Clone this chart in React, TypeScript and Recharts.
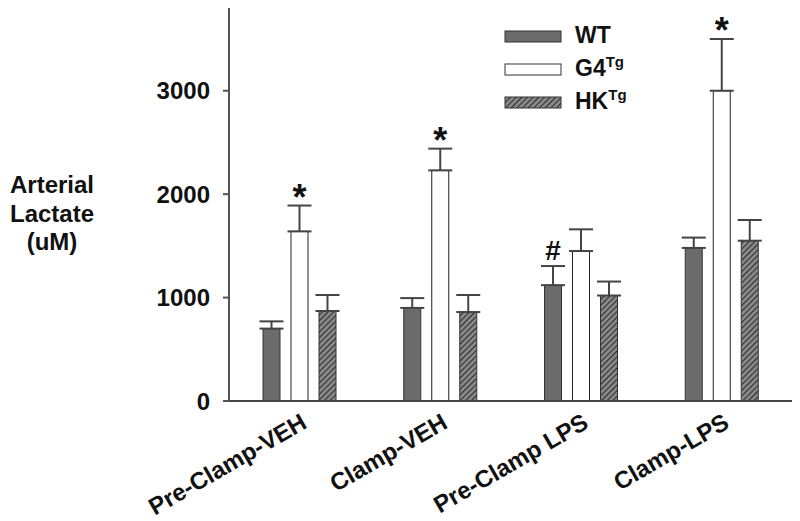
import React from 'react'
import { BarChart, Bar, XAxis, YAxis, ErrorBar, LabelList } from 'recharts'

const categories = ['Pre-Clamp-VEH', 'Clamp-VEH', 'Pre-Clamp LPS', 'Clamp-LPS']
const wt = [700, 900, 1120, 1480]
const wtErr = [70, 95, 185, 100]
const g4 = [1640, 2230, 1450, 3000]
const g4Err = [250, 210, 210, 500]
const hk = [870, 860, 1020, 1550]
const hkErr = [155, 165, 135, 200]
const wtMarks = ['', '', '#', '']
const g4Marks = ['*', '*', '', '*']
const yTicks = [0, 1000, 2000, 3000]

const data = categories.map((c, i) => ({
  name: c,
  wt: wt[i],
  wtErr: [0, wtErr[i]],
  g4: g4[i],
  g4Err: [0, g4Err[i]],
  hk: hk[i],
  hkErr: [0, hkErr[i]],
}))

const FONT = '"Liberation Sans", Arial, sans-serif'
const WT_FILL = '#6b6b6b'

// glyph baseline shift so the mark's centre sits ~16px over the error cap
const markStyle: Record<string, { size: number; shift: number }> = {
  '*': { size: 36, shift: 4 },
  '#': { size: 28, shift: -6 },
}

const makeMark = (vals: number[], errs: number[], marks: string[]) => (props: any) => {
  const i = props.index
  const box = props.viewBox ?? props
  const { x, y, width, height } = box
  if (i == null || !marks[i]) return null
  const perUnit = height / vals[i]
  const top = y - errs[i] * perUnit
  const st = markStyle[marks[i]]
  return (
    <text
      x={x + width / 2}
      y={top + st.shift}
      textAnchor="middle"
      fontFamily={FONT}
      fontWeight="bold"
      fontSize={st.size}
      fill="#111"
    >
      {marks[i]}
    </text>
  )
}

const XTick = (props: any) => {
  const { x, y, payload } = props
  const px = x + 9
  const py = y + 18
  return (
    <text
      x={px}
      y={py}
      textAnchor="end"
      transform={`rotate(-30, ${px}, ${py})`}
      fontFamily={FONT}
      fontWeight="bold"
      fontSize={24}
      fill="#111"
    >
      {payload.value}
    </text>
  )
}

const legendItems = [
  { label: 'WT', sup: '', fill: WT_FILL },
  { label: 'G4', sup: 'Tg', fill: '#ffffff' },
  { label: 'HK', sup: 'Tg', fill: 'url(#hatch)' },
]

const LegendBox = () => (
  <svg width={160} height={100} style={{ position: 'absolute', left: 504, top: 20 }}>
    {legendItems.map((it, i) => (
      <g key={it.label} transform={`translate(0, ${i * 33})`}>
        <rect x={1} y={11} width={56} height={11} fill={it.fill} stroke="#333" strokeWidth={1} />
        <text x={71} y={23} fontFamily={FONT} fontWeight="bold" fontSize={23} fill="#111">
          {it.label}
          {it.sup && (
            <tspan fontSize={15} dy={-9}>
              {it.sup}
            </tspan>
          )}
        </text>
      </g>
    ))}
  </svg>
)

const YLabel = () => (
  <text fontFamily={FONT} fontWeight="bold" fontSize={24} fill="#111" textAnchor="middle">
    <tspan x={52} y={193}>Arterial</tspan>
    <tspan x={52} y={222}>Lactate</tspan>
    <tspan x={52} y={250}>(uM)</tspan>
  </text>
)

export default function App() {
  return (
    <div style={{ position: 'absolute', left: 0, top: 0, width: 800, height: 521, background: '#fff' }}>
      <BarChart
        width={800}
        height={521}
        data={data}
        margin={{ top: 8, right: 8, left: 0, bottom: 0 }}
        barGap={11}
        barSize={17}
      >
        <defs>
          <pattern id="hatch" patternUnits="userSpaceOnUse" width={4} height={4} patternTransform="rotate(45)">
            <rect width={4} height={4} fill="#8a8a8a" />
            <line x1={0} y1={0} x2={0} y2={4} stroke="#2e2e2e" strokeWidth={2.2} />
          </pattern>
        </defs>
        <XAxis
          dataKey="name"
          height={120}
          tickLine={false}
          tick={<XTick />}
          interval={0}
          stroke="#444"
          strokeWidth={2}
        />
        <YAxis
          width={229}
          domain={[0, 3800]}
          ticks={yTicks}
          tickSize={6}
          tickMargin={13}
          stroke="#555"
          strokeWidth={2}
          tick={{ fontFamily: FONT, fontWeight: 'bold', fontSize: 24, fill: '#111' }}
          label={<YLabel />}
        />
        <Bar dataKey="wt" name="WT" fill={WT_FILL} stroke="#333" strokeWidth={1} isAnimationActive={false}>
          <ErrorBar dataKey="wtErr" width={12} stroke="#444" strokeWidth={2} direction="y" />
          <LabelList content={makeMark(wt, wtErr, wtMarks)} />
        </Bar>
        <Bar dataKey="g4" name="G4Tg" fill="#ffffff" stroke="#222" strokeWidth={1} isAnimationActive={false}>
          <ErrorBar dataKey="g4Err" width={12} stroke="#444" strokeWidth={2} direction="y" />
          <LabelList content={makeMark(g4, g4Err, g4Marks)} />
        </Bar>
        <Bar dataKey="hk" name="HKTg" fill="url(#hatch)" stroke="#333" strokeWidth={1} isAnimationActive={false}>
          <ErrorBar dataKey="hkErr" width={12} stroke="#444" strokeWidth={2} direction="y" />
        </Bar>
      </BarChart>
      <LegendBox />
    </div>
  )
}
